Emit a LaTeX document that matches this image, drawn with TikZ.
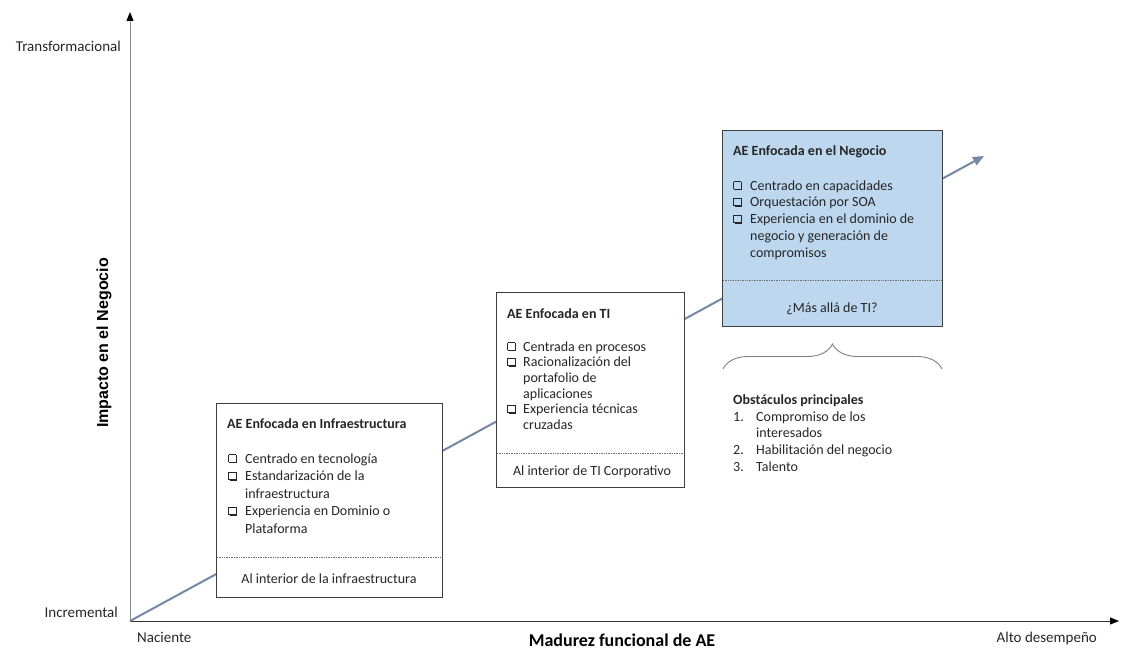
\documentclass[tikz,border=0pt]{standalone}
\usepackage{fontspec}
\setmainfont{Carlito}
\newfontfamily\arialf{Liberation Sans}
\usetikzlibrary{arrows.meta,decorations.pathreplacing}
\definecolor{boxblue}{HTML}{BDD7EE}
\definecolor{diagc}{HTML}{7588A3}
\definecolor{edgec}{HTML}{3F3F3F}
\definecolor{txtc}{HTML}{262626}
\newcommand{\cb}{{\setlength{\unitlength}{1pt}\begin{picture}(10,8)(0,0)\linethickness{0.6pt}\put(0.3,1.1){\line(1,0){7.4}}\put(0.3,1.1){\line(0,1){7.4}}\put(0.3,8.5){\line(1,0){7.4}}\put(7.7,1.1){\line(0,1){7.4}}\put(1.3,0){\rule{7.6pt}{1.4pt}}\put(7.5,0){\rule{1.4pt}{7.6pt}}\end{picture}}}
\begin{document}
\begin{tikzpicture}[x=1pt,y=-1pt,
  stage/.style={draw=edgec,line width=1.1pt,fill=white,inner sep=0pt,anchor=north west},
  txt/.style={inner sep=0pt,anchor=base west,text=txtc,font=\fontsize{14}{17}\selectfont},
  ttl/.style={txt,font=\fontsize{14}{17}\selectfont\bfseries},
  axl/.style={inner sep=0pt,text=txtc,font=\fontsize{15}{18}\selectfont},
  sepline/.style={densely dotted,draw=black!55,line width=0.7pt},
  brc/.style={decorate,decoration={brace,amplitude=25pt},draw=black!50,line width=0.9pt}
]
\useasboundingbox (0,0) rectangle (1145,650);
\coordinate (O) at (130,621);
\coordinate (Ytop) at (130,12);
\coordinate (Xend) at (1119,621);
\coordinate (Dend) at (984,156);
% axes
\draw[draw=black!45,line width=1pt,-{Triangle[length=9pt,width=7pt,color=black]}] (O) -- (Ytop);
\draw[draw=black!80,line width=1pt,-{Triangle[length=9pt,width=7pt,color=black]}] (O) -- (Xend);
% diagonal trend
\draw[draw=diagc,line width=2pt,-{Triangle[length=11pt,width=9pt]}] (O) -- (Dend);
% axis labels
\node[axl,anchor=east] (ltr) at (121,46) {Transformacional};
\node[axl,anchor=east] (linc) at (118,612) {Incremental};
\node[axl,anchor=base west] (lnac) at (137,642) {Naciente};
\node[axl,anchor=base east] (lalt) at (1097,642) {Alto desempeño};
\node[inner sep=0pt,anchor=base,text=black,font=\fontsize{18}{20}\selectfont\bfseries] (lmad) at (622,646.5) {Madurez funcional de AE};
\node[inner sep=0pt,text=black,rotate=90,font=\arialf\fontsize{16}{18}\selectfont\bfseries] (limp) at (104,343) {Impacto en el Negocio};
% box 1
\node[stage,minimum width=226pt,minimum height=194pt] (b1) at (216,403) {};
\node[ttl] (b1t) at (227,428) {AE Enfocada  en Infraestructura};
\node[txt,font=\fontsize{14}{17.6}\selectfont] (b1l) at (228,463) {\begin{tabular}[t]{@{}p{17pt}@{}l@{}}\cb & Centrado en tecnología\\ \cb & Estandarización de la\\ & infraestructura\\ \cb & Experiencia en Dominio o\\ & Plataforma\end{tabular}};
\draw[sepline] (217,557) -- (441,557);
\node[txt,anchor=base] (b1b) at (329,583) {Al interior de la infraestructura};
% box 2
\node[stage,minimum width=188pt,minimum height=195pt] (b2) at (496,292) {};
\node[ttl] (b2t) at (507,318) {AE Enfocada en TI};
\node[txt,font=\fontsize{14}{15.7}\selectfont] (b2l) at (507,351) {\begin{tabular}[t]{@{}p{16pt}@{}l@{}}\cb & Centrada en procesos\\ \cb & Racionalización del\\ & portafolio de\\ & aplicaciones\\ \cb & Experiencia técnicas\\ & cruzadas\end{tabular}};
\draw[sepline] (497,453) -- (683,453);
\node[txt,anchor=base] (b2b) at (592,475) {Al interior de TI Corporativo};
% box 3
\node[stage,fill=boxblue,minimum width=220pt,minimum height=196pt] (b3) at (722,130) {};
\node[ttl] (b3t) at (733,155) {AE Enfocada  en el Negocio};
\node[txt,font=\fontsize{14}{16.8}\selectfont] (b3l) at (733,190) {\begin{tabular}[t]{@{}p{17pt}@{}l@{}}\cb & Centrado en capacidades\\ \cb & Orquestación por SOA\\ \cb & Experiencia en el dominio de\\ & negocio y generación de\\ & compromisos\end{tabular}};
\draw[sepline] (723,280) -- (941,280);
\node[txt,anchor=base] (b3b) at (832,312) {¿Más allá de TI?};
% brace and obstacles
\coordinate (brL) at (723,369);
\coordinate (brR) at (942,369);
\draw[brc] (brL) -- (brR);
\node[ttl] (obt) at (733,404) {Obstáculos principales};
\node[txt,font=\fontsize{14}{16.7}\selectfont] (obl) at (733,421) {\begin{tabular}[t]{@{}p{23pt}@{}l@{}}1. & Compromiso de los\\ & interesados\\ 2. & Habilitación del negocio\\ 3. & Talento\end{tabular}};
\end{tikzpicture}
\end{document}
